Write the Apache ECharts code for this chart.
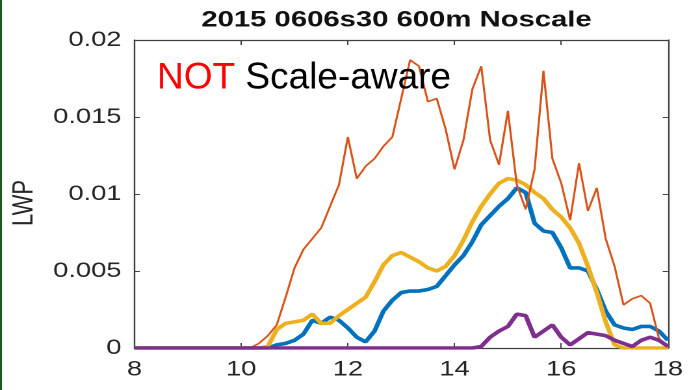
<!DOCTYPE html>
<html>
<head>
<meta charset="utf-8">
<script src="https://cdn.jsdelivr.net/npm/echarts@6/dist/echarts.min.js"></script>
<style>
  html, body { margin: 0; padding: 0; background: #ffffff; overflow: hidden; }
  #wrap { position: relative; width: 693px; height: 390px; overflow: hidden; }
  #edge { position: absolute; left: 0; top: 0; width: 2px; height: 390px; background: #1b5a1e; z-index: 2; }
  /* the figure is drawn at its native width and widened to the page width */
  #chart { position: absolute; left: 0; top: 0; width: 533px; height: 390px;
           transform: scaleX(1.3); transform-origin: 0 0; }
</style>
</head>
<body>
<div id="wrap">
  <div id="chart"></div>
  <div id="edge"></div>
</div>
<script>
// sample times, minutes after midnight (10-minute output)
const minutes = [480, 490, 500, 510, 520, 530, 540, 550, 560, 570, 580, 590,
  600, 610, 620, 630, 640, 650, 660, 670, 680, 690, 700, 710,
  720, 730, 740, 750, 760, 770, 780, 790, 800, 810, 820, 830,
  840, 850, 860, 870, 880, 890, 900, 910, 920, 930, 940, 950,
  960, 970, 980, 990, 1000, 1010, 1020, 1030, 1040, 1050, 1060, 1070, 1080];

// x tick labels (hours)
const xTickLabels = ['8', '10', '12', '14', '16', '18'];
// y tick labels
const yTickLabels = ['0', '0.005', '0.01', '0.015', '0.02'];

// liquid water path, four runs
const lwpBlue = [0, 0, 0, 0, 0, 0, 0, 0, 0, 0, 0, 0,
  0, 0, 0, 0, 0.0002, 0.0003, 0.0005, 0.0009, 0.0018, 0.0016, 0.0020, 0.0018,
  0.0013, 0.0007, 0.0004, 0.0011, 0.0024, 0.0031, 0.0036, 0.0037, 0.0037, 0.0038, 0.0040, 0.0047,
  0.0054, 0.0060, 0.0069, 0.0080, 0.0086, 0.0092, 0.0097, 0.0104, 0.0101, 0.0081, 0.0076, 0.0075,
  0.0065, 0.0052, 0.0052, 0.0050, 0.0038, 0.0024, 0.0015, 0.0013, 0.0012, 0.0014, 0.0014, 0.0011, 0.0005];

const lwpYellow = [0, 0, 0, 0, 0, 0, 0, 0, 0, 0, 0, 0,
  0, 0, 0, 0.0001, 0.0012, 0.0016, 0.0017, 0.0018, 0.0022, 0.0016, 0.0016, 0.0021,
  0.0025, 0.0029, 0.0033, 0.0043, 0.0054, 0.0060, 0.0062, 0.0059, 0.0056, 0.0052, 0.0050, 0.0053,
  0.0060, 0.0070, 0.0082, 0.0092, 0.0100, 0.0107, 0.0110, 0.0109, 0.0106, 0.0101, 0.0097, 0.0090,
  0.0085, 0.0078, 0.0068, 0.0053, 0.0036, 0.0017, 0.0002, 0, 0, 0, 0, 0, 0];

const lwpOrange = [0, 0, 0, 0, 0, 0, 0, 0, 0, 0, 0, 0,
  0, 0, 0.0003, 0.0008, 0.0015, 0.0033, 0.0052, 0.0064, 0.0071, 0.0078, 0.0092, 0.0106,
  0.0137, 0.0110, 0.0118, 0.0123, 0.0131, 0.0137, 0.0162, 0.0187, 0.0183, 0.0160, 0.0162, 0.0142,
  0.0116, 0.0135, 0.0168, 0.0183, 0.0135, 0.0119, 0.0154, 0.0106, 0.0090, 0.0116, 0.0180, 0.0123,
  0.0107, 0.0083, 0.0120, 0.0089, 0.0104, 0.0071, 0.0053, 0.0028, 0.0032, 0.0034, 0.0029, 0.0006, 0.0001];

const lwpPurple = [0, 0, 0, 0, 0, 0, 0, 0, 0, 0, 0, 0,
  0, 0, 0, 0, 0, 0, 0, 0, 0, 0, 0, 0,
  0, 0, 0, 0, 0, 0, 0, 0, 0, 0, 0, 0,
  0, 0, 0, 0.0001, 0.0007, 0.0011, 0.0014, 0.0022, 0.0021, 0.0007, 0.0011, 0.0015,
  0.0007, 0.0002, 0.0006, 0.0010, 0.0009, 0.0008, 0.0005, 0.0003, 0.0001, 0.0005, 0.0007, 0.0005, 0.0001];

const titleText = '2015 0606s30 600m Noscale';
const yName = 'LWP';

const FONT = '"Liberation Sans", Arial, sans-serif';
const AXIS = '#404040';
const TEXT = '#262626';

function pairs(vals) {
  return minutes.map((m, i) => [m, vals[i]]);
}

const chart = echarts.init(document.getElementById('chart'), null, { renderer: 'canvas', devicePixelRatio: 2 });

const xCommon = {
  type: 'value', min: 480, max: 1080, interval: 120,
  axisLine: { show: true, onZero: false, lineStyle: { color: AXIS, width: 1.2 } },
  axisTick: { show: true, inside: true, length: 5, lineStyle: { color: AXIS, width: 1 } },
  splitLine: { show: false }
};
const yCommon = {
  type: 'value', min: 0, max: 0.02, interval: 0.005,
  axisLine: { show: true, onZero: false, lineStyle: { color: AXIS, width: 1.2 } },
  axisTick: { show: true, inside: true, length: 4, lineStyle: { color: AXIS, width: 1 } },
  splitLine: { show: false }
};

chart.setOption({
  animation: false,
  backgroundColor: '#ffffff',
  title: {
    text: titleText,
    left: 305, top: 9, textAlign: 'center', padding: 0,
    textStyle: { fontFamily: FONT, fontSize: 22.5, fontWeight: 'bold', color: '#111111' }
  },
  grid: { left: 96.15, right: 19.2, top: 40, bottom: 42, containLabel: false },
  xAxis: [
    Object.assign({}, xCommon, {
      position: 'bottom',
      axisLabel: {
        show: true, margin: 11, fontFamily: FONT, fontSize: 21, color: TEXT,
        formatter: v => xTickLabels[(v - 480) / 120]
      }
    }),
    Object.assign({}, xCommon, { position: 'top', axisLabel: { show: false } })
  ],
  yAxis: [
    Object.assign({}, yCommon, {
      position: 'left',
      name: yName, nameLocation: 'middle', nameRotate: 90, nameGap: 72,
      nameTextStyle: { fontFamily: FONT, fontSize: 22, color: TEXT, padding: [0, 18, 0, 0] },
      axisLabel: {
        show: true, margin: 10, fontFamily: FONT, fontSize: 21, color: TEXT,
        formatter: v => yTickLabels[Math.round(v / 0.005)]
      }
    }),
    Object.assign({}, yCommon, { position: 'right', axisLabel: { show: false } })
  ],
  series: [
    { type: 'line', data: pairs(lwpBlue), showSymbol: false, z: 2,
      lineStyle: { color: '#0072BD', width: 3.6 }, itemStyle: { color: '#0072BD' } },
    { type: 'line', data: pairs(lwpYellow), showSymbol: false, z: 3,
      lineStyle: { color: '#EDB120', width: 3.6 }, itemStyle: { color: '#EDB120' } },
    { type: 'line', data: pairs(lwpOrange), showSymbol: false, z: 4,
      lineStyle: { color: '#D95319', width: 1.6 }, itemStyle: { color: '#D95319' } },
    { type: 'line', data: pairs(lwpPurple), showSymbol: false, z: 5,
      lineStyle: { color: '#7E2F8E', width: 3.6 }, itemStyle: { color: '#7E2F8E' } }
  ],
  graphic: [{
    type: 'text',
    x: 120.8, y: 60, scaleX: 1 / 1.3, z: 10,
    style: {
      text: '{r|NOT} {k|Scale-aware}',
      fontFamily: FONT, fontSize: 37, fill: '#000000',
      rich: {
        r: { fontFamily: FONT, fontSize: 37, fill: '#ff0000', color: '#ff0000' },
        k: { fontFamily: FONT, fontSize: 37, fill: '#000000', color: '#000000' }
      }
    }
  }]
});
</script>
</body>
</html>
